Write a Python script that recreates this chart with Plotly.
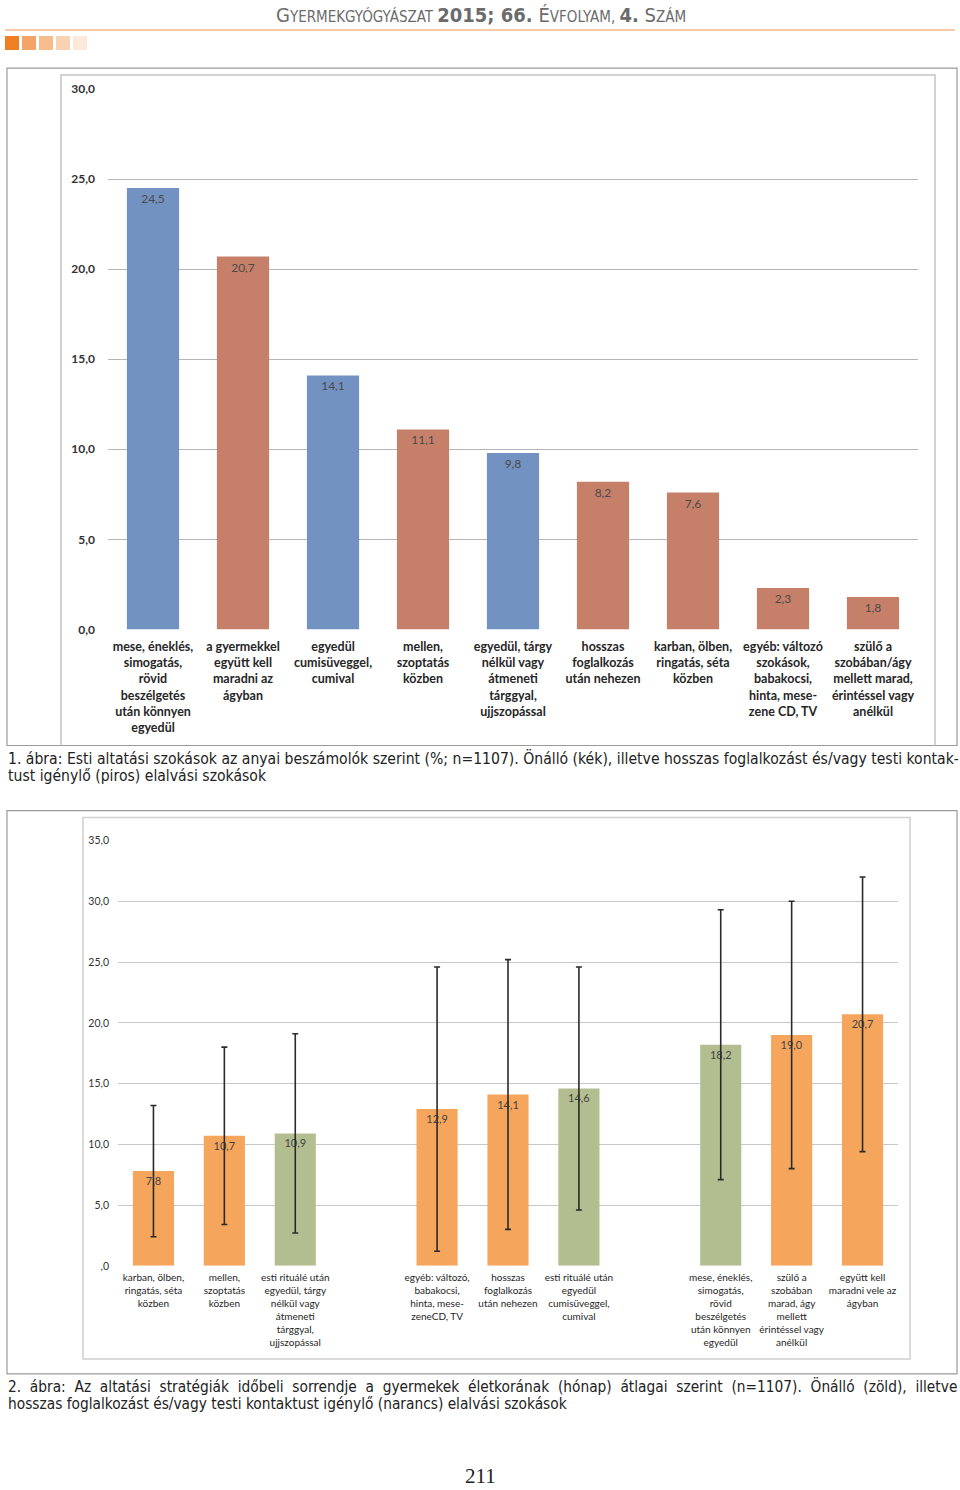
import plotly.graph_objects as go

W, H = 960, 1490

# ---------------- data ----------------
header_parts = ["G", "YERMEKGYÓGYÁSZAT ", "2015; 66.", " É", "VFOLYAM, ", "4.", " S", "ZÁM"]

c1_categories = [
    "mese, éneklés,<br>simogatás,<br>rövid<br>beszélgetés<br>után könnyen<br>egyedül",
    "a gyermekkel<br>együtt kell<br>maradni az<br>ágyban",
    "egyedül<br>cumisüveggel,<br>cumival",
    "mellen,<br>szoptatás<br>közben",
    "egyedül, tárgy<br>nélkül vagy<br>átmeneti<br>tárggyal,<br>ujjszopással",
    "hosszas<br>foglalkozás<br>után nehezen",
    "karban, ölben,<br>ringatás, séta<br>közben",
    "egyéb: változó<br>szokások,<br>babakocsi,<br>hinta, mese-<br>zene CD, TV",
    "szülő a<br>szobában/ágy<br>mellett marad,<br>érintéssel vagy<br>anélkül",
]
c1_values = [24.5, 20.7, 14.1, 11.1, 9.8, 8.2, 7.6, 2.3, 1.8]
c1_groups = ["önálló", "kontakt", "önálló", "kontakt", "önálló", "kontakt", "kontakt", "kontakt", "kontakt"]
c1_ticks = [0, 5, 10, 15, 20, 25, 30]
c1_ticktext = ["0,0", "5,0", "10,0", "15,0", "20,0", "25,0", "30,0"]

c2_categories = [
    "karban, ölben,<br>ringatás, séta<br>közben",
    "mellen,<br>szoptatás<br>közben",
    "esti rituálé után<br>egyedül, tárgy<br>nélkül vagy<br>átmeneti<br>tárggyal,<br>ujjszopással",
    "(üres 1)",
    "egyéb: változó,<br>babakocsi,<br>hinta, mese-<br>zeneCD, TV",
    "hosszas<br>foglalkozás<br>után nehezen",
    "esti rituálé után<br>egyedül<br>cumisüveggel,<br>cumival",
    "(üres 2)",
    "mese, éneklés,<br>simogatás,<br>rövid<br>beszélgetés<br>után könnyen<br>egyedül",
    "szülő a<br>szobában<br>marad, ágy<br>mellett<br>érintéssel vagy<br>anélkül",
    "együtt kell<br>maradni vele az<br>ágyban",
]
c2_values = [7.8, 10.7, 10.9, None, 12.9, 14.1, 14.6, None, 18.2, 19.0, 20.7]
c2_errors = [5.4, 7.3, 8.2, None, 11.7, 11.1, 10.0, None, 11.1, 11.0, 11.3]
c2_groups = ["kontakt", "kontakt", "önálló", None, "kontakt", "kontakt", "önálló", None, "önálló", "kontakt", "kontakt"]
c2_ticks = [0, 5, 10, 15, 20, 25, 30, 35]
c2_ticktext = [",0", "5,0", "10,0", "15,0", "20,0", "25,0", "30,0", "35,0"]

caption1 = [
    "1. ábra: Esti altatási szokások az anyai beszámolók szerint (%; n=1107). Önálló (kék), illetve hosszas foglalkozást és/vagy testi kontak-",
    "tust igénylő (piros) elalvási szokások",
]
caption2 = [
    "2. ábra: Az altatási stratégiák időbeli sorrendje a gyermekek életkorának (hónap) átlagai szerint (n=1107). Önálló (zöld), illetve",
    "hosszas foglalkozást és/vagy testi kontaktust igénylő (narancs) elalvási szokások",
]
page_number = "211"

# ---------------- styles ----------------
C1_COL = {"önálló": "#7292C1", "kontakt": "#C68069"}
C2_COL = {"önálló": "#B2BE90", "kontakt": "#F5A65C", None: "rgba(0,0,0,0)"}
LABEL_FONT = "Lato, Open Sans, sans-serif"
CAP_FONT = "Liberation Sans Narrow, DejaVu Sans Condensed, Roboto Condensed, sans-serif"

# the rendered page shows the figure's paper between y=8 and y=1482
Y0, YH = 8.0, 1474.0


def px(x):
    return x / W


def py(y):
    return 1 - (y - Y0) / YH


def fmt(v):
    return ("%.1f" % v).replace(".", ",")


fig = go.Figure()

fig.add_trace(go.Bar(
    x=c1_categories, y=c1_values,
    marker=dict(color=[C1_COL[g] for g in c1_groups], line=dict(width=0)),
    text=[fmt(v) for v in c1_values], textposition="inside", insidetextanchor="end",
    textfont=dict(family=LABEL_FONT, size=12, color="#4a4a4a"),
    constraintext="none", textangle=0,
    xaxis="x", yaxis="y", hoverinfo="skip", showlegend=False,
))

fig.add_trace(go.Bar(
    x=c2_categories, y=c2_values,
    marker=dict(color=[C2_COL[g] for g in c2_groups], line=dict(width=0)),
    text=[fmt(v) if v is not None else "" for v in c2_values],
    textposition="inside", insidetextanchor="end",
    textfont=dict(family=LABEL_FONT, size=11, color="#444"),
    constraintext="none", textangle=0,
    error_y=dict(type="data", array=c2_errors, visible=True, color="#2a2a2a", thickness=1.6, width=3),
    xaxis="x2", yaxis="y2", hoverinfo="skip", showlegend=False,
))

c2_labelled = [c for c, g in zip(c2_categories, c2_groups) if g is not None]

shapes = []
# header line and squares
shapes.append(dict(type="line", xref="paper", yref="paper", x0=px(5), x1=px(955), y0=py(30), y1=py(30),
                   line=dict(color="#F2B98C", width=1.5)))
sq_cols = ["#EF7F22", "#F4A466", "#F7BC8C", "#F9D2B2", "#FCE9DA"]
for i, c in enumerate(sq_cols):
    x0 = 5 + i * 17
    shapes.append(dict(type="rect", xref="paper", yref="paper", x0=px(x0), x1=px(x0 + 14), y0=py(50), y1=py(36),
                       fillcolor=c, line=dict(width=0)))
# chart 1 frames
shapes.append(dict(type="rect", xref="paper", yref="paper", x0=px(7), x1=px(957), y0=py(745), y1=py(68),
                   line=dict(color="#9a9a9a", width=1.2)))
shapes.append(dict(type="path", xref="paper", yref="paper",
                   path=f"M {px(61)},{py(745)} L {px(61)},{py(75)} L {px(935)},{py(75)} L {px(935)},{py(745)}",
                   line=dict(color="#c4c4c4", width=1.5)))
# chart 2 frames
shapes.append(dict(type="rect", xref="paper", yref="paper", x0=px(7), x1=px(957), y0=py(1373), y1=py(810),
                   line=dict(color="#9a9a9a", width=1.2)))
shapes.append(dict(type="rect", xref="paper", yref="paper", x0=px(83), x1=px(910), y0=py(1358), y1=py(817),
                   line=dict(color="#d0d0d0", width=1.5)))

annotations = []
sizes = [20, 15, 20, 20, 15, 20, 20, 15]
bold = [False, False, True, False, False, True, False, False]
htxt = "".join(
    f"<span style='font-size:{s}px'>{'<b>' + p + '</b>' if b else p}</span>"
    for p, s, b in zip(header_parts, sizes, bold)
)
annotations.append(dict(text=htxt, x=px(481), y=py(15), xref="paper", yref="paper", showarrow=False,
                        xanchor="center", yanchor="middle", font=dict(family=CAP_FONT, size=15, color="#6b6b6b")))

cap_lines = [(caption1[0], 758, 15.6, False), (caption1[1], 775, 15.6, False),
             (caption2[0], 1386, 15.3, True), (caption2[1], 1403, 15.3, False)]
for line, yy, fs, justify in cap_lines:
    txt = line.replace(" ", "\u00a0 ") if justify else line
    annotations.append(dict(text=txt, x=px(6), y=py(yy), xref="paper", yref="paper", showarrow=False,
                            xanchor="left", yanchor="middle", font=dict(family=CAP_FONT, size=fs, color="#222")))
annotations.append(dict(text=page_number, x=px(480), y=py(1475), xref="paper", yref="paper", showarrow=False,
                        xanchor="center", yanchor="middle",
                        font=dict(family="Liberation Serif, DejaVu Serif, serif", size=21, color="#222")))

fig.update_layout(
    width=W, height=H, margin=dict(l=0, r=0, t=0, b=0),
    paper_bgcolor="white", plot_bgcolor="white",
    bargap=0.42,
    shapes=shapes, annotations=annotations,
    xaxis=dict(domain=[px(108), px(918)], anchor="y", showgrid=False, zeroline=False, showline=False,
               tickfont=dict(family=LABEL_FONT, size=12.5, color="#262626", weight="bold"),
               ticks="", ticklabelstandoff=8, tickangle=0, fixedrange=True),
    yaxis=dict(domain=[py(629), py(89)], anchor="x", range=[0, 30], tickvals=c1_ticks, ticktext=c1_ticktext,
               showgrid=True, gridcolor="#b5b5b5", gridwidth=1, zeroline=False, showline=False,
               tickfont=dict(family=LABEL_FONT, size=12, color="#333", weight="bold"),
               ticks="", ticklabelstandoff=12, fixedrange=True),
    xaxis2=dict(domain=[px(118), px(898)], anchor="y2", showgrid=False, zeroline=False, showline=False,
                categoryorder="array", categoryarray=c2_categories,
                tickmode="array", tickvals=c2_labelled, ticktext=c2_labelled,
                tickfont=dict(family=LABEL_FONT, size=10, color="#262626"),
                ticks="", ticklabelstandoff=4, tickangle=0, fixedrange=True),
    yaxis2=dict(domain=[py(1265), py(840)], anchor="x2", range=[0, 35], tickvals=c2_ticks, ticktext=c2_ticktext,
                showgrid=True, gridcolor="#c8c8c8", gridwidth=1, zeroline=False, showline=False,
                tickfont=dict(family=LABEL_FONT, size=10.5, color="#333"),
                ticks="", ticklabelstandoff=8, fixedrange=True),
)

post = (
    "document.documentElement.style.margin='0px';document.documentElement.style.padding='0px';"
    "document.body.style.margin='0px';document.body.style.padding='0px';document.body.style.overflow='hidden';"
    "var d=document.getElementById('{plot_id}');d.style.position='absolute';d.style.top='0px';d.style.left='0px';"
)
fig.write_html("out.html", config={"displayModeBar": False}, post_script=post)
